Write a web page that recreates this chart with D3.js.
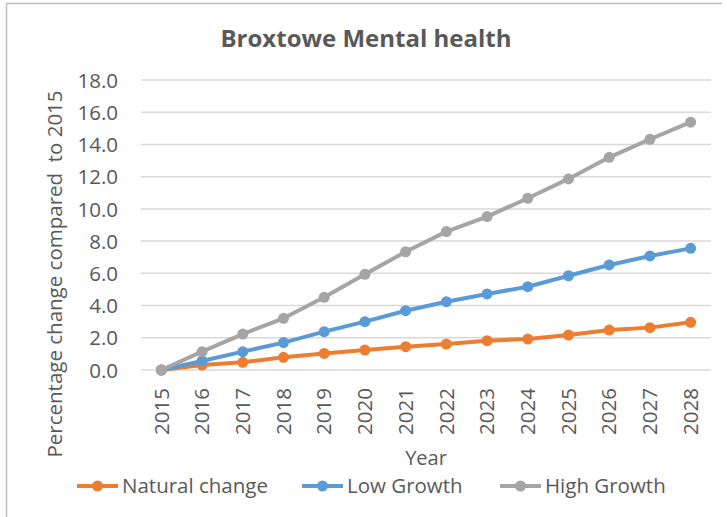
<!DOCTYPE html>
<html><head><meta charset="utf-8">
<script src="https://cdn.jsdelivr.net/npm/d3@7"></script>
<style>html,body{margin:0;padding:0;background:#fff;}svg{display:block;}</style>
</head><body>
<svg id="chart" width="727" height="517"></svg>
<script>
const years = ["2015","2016","2017","2018","2019","2020","2021","2022","2023","2024","2025","2026","2027","2028"];
const naturalChange = [0, 0.31, 0.48, 0.79, 1.03, 1.24, 1.45, 1.61, 1.82, 1.92, 2.17, 2.48, 2.63, 2.96];
const lowGrowth = [0, 0.56, 1.14, 1.70, 2.38, 3.00, 3.68, 4.24, 4.72, 5.17, 5.85, 6.52, 7.08, 7.55];
const highGrowth = [0, 1.14, 2.23, 3.21, 4.51, 5.94, 7.34, 8.59, 9.52, 10.66, 11.86, 13.20, 14.32, 15.38];
const seriesNames = ["Natural change", "Low Growth", "High Growth"];
const yTicks = [0, 2, 4, 6, 8, 10, 12, 14, 16, 18];
const titleText = "Broxtowe Mental health";
const yTitle = "Percentage change compared\u00a0 to 2015";
const xTitle = "Year";

const colors = ["#ED7D31", "#5B9BD5", "#A5A5A5"];
const series = [naturalChange, lowGrowth, highGrowth];
const font = "'Open Sans', sans-serif";
const textColor = "#595959";

const svg = d3.select("#chart");
svg.append("rect").attr("width", 727).attr("height", 517).attr("fill", "#fff");
svg.append("path").attr("d", "M6.5,517 V3.5 H722").attr("fill", "none").attr("stroke", "#bfbfbf").attr("stroke-width", 1.5);

const x = d3.scaleBand().domain(years).range([141, 711]);
const y = d3.scaleLinear().domain([0, 18]).range([370, 80]);

svg.append("g").selectAll("line").data(yTicks).join("line")
  .attr("x1", 141).attr("x2", 711)
  .attr("y1", d => y(d)).attr("y2", d => y(d))
  .attr("stroke", "#d9d9d9").attr("stroke-width", 1.5);

const yAxis = svg.append("g").attr("transform", "translate(125,0)")
  .call(d3.axisLeft(y).tickValues(yTicks).tickFormat(d3.format(".1f")).tickSize(0).tickPadding(7));
yAxis.select(".domain").remove();
yAxis.selectAll("text").attr("font-family", font).attr("font-size", 20.5).attr("fill", textColor).attr("dy", "0.35em");

const xAxis = svg.append("g").attr("transform", "translate(0,370)")
  .call(d3.axisBottom(x).tickSize(0).tickPadding(0));
xAxis.select(".domain").remove();
xAxis.selectAll("text")
  .attr("font-family", font).attr("font-size", 20.5).attr("fill", textColor)
  .attr("text-anchor", "end").attr("dy", "0.35em").attr("x", 0).attr("y", 0)
  .attr("transform", "translate(0,18) rotate(-90)");

const line = d3.line().x((d, i) => x(years[i]) + x.bandwidth() / 2).y(d => y(d));
series.forEach((s, k) => {
  const g = svg.append("g");
  g.append("path").datum(s).attr("d", line).attr("fill", "none")
    .attr("stroke", colors[k]).attr("stroke-width", 4).attr("stroke-linejoin", "round");
  g.selectAll("circle").data(s).join("circle")
    .attr("cx", (d, i) => x(years[i]) + x.bandwidth() / 2).attr("cy", d => y(d))
    .attr("r", 5.5).attr("fill", colors[k]);
});

svg.append("text").attr("x", 366).attr("y", 47).attr("text-anchor", "middle")
  .attr("font-family", font).attr("font-weight", "bold").attr("font-size", 24).attr("fill", textColor)
  .text(titleText);

svg.append("text").attr("transform", "translate(62,274) rotate(-90)").attr("text-anchor", "middle")
  .attr("font-family", font).attr("font-size", 20.5).attr("fill", textColor).text(yTitle);
svg.append("text").attr("x", 426).attr("y", 465).attr("text-anchor", "middle")
  .attr("font-family", font).attr("font-size", 20).attr("fill", textColor).text(xTitle);

const legendX = [77, 302, 500];
const lg = svg.append("g");
seriesNames.forEach((name, k) => {
  const g = lg.append("g").attr("transform", `translate(${legendX[k]},486)`);
  g.append("line").attr("x1", 0).attr("x2", 41).attr("stroke", colors[k]).attr("stroke-width", 4);
  g.append("circle").attr("cx", 20.5).attr("r", 5.5).attr("fill", colors[k]);
  g.append("text").attr("x", 45).attr("dy", "0.35em").attr("font-family", font).attr("font-size", 20.5)
    .attr("fill", textColor).text(name);
});
</script>
</body></html>
